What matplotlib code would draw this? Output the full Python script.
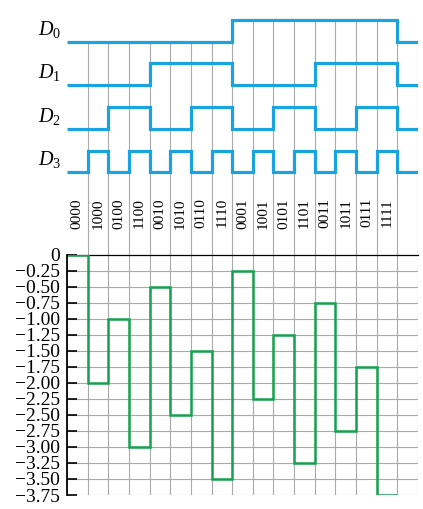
"""Binary-weighted DAC: input code sequence and staircase output."""

import matplotlib
matplotlib.use("Agg")
import matplotlib.pyplot as plt
import numpy as np

plt.rcParams["font.family"] = ["Liberation Serif", "DejaVu Serif"]
plt.rcParams["mathtext.fontset"] = "custom"
plt.rcParams["mathtext.rm"] = "Liberation Serif"
plt.rcParams["mathtext.it"] = "Liberation Serif:italic"

# input codes, written D3 D2 D1 D0
codes = ["0000", "1000", "0100", "1100", "0010", "1010", "0110", "1110",
         "0001", "1001", "0101", "1101", "0011", "1011", "0111", "1111"]
# output voltage for each code
vout = [0, -2.00, -1.00, -3.00, -0.50, -2.50, -1.50, -3.50,
        -0.25, -2.25, -1.25, -3.25, -0.75, -2.75, -1.75, -3.75]
yticks = [0, -0.25, -0.50, -0.75, -1.00, -1.25, -1.50, -1.75, -2.00,
          -2.25, -2.50, -2.75, -3.00, -3.25, -3.50, -3.75]
ytick_labels = ["0"] + ["\u2212%.2f" % abs(v) for v in yticks[1:]]
signal_names = ["D_0", "D_1", "D_2", "D_3"]

BLUE = "#1ba3df"
GREEN = "#17a050"
GRID = "#a9a9a9"

# bit levels per column, one idle column at the end
bits = {k: [int(c[3 - k]) for c in codes] + [0] for k in range(4)}
ncol = len(codes) + 1

fig = plt.figure(figsize=(4.23, 5.09), dpi=100)
left, width = 67 / 423, 351 / 423
split = 1 - 254.7 / 509

# ---- top: digital inputs
top = fig.add_axes([left, split, width, 1 - split])
top.set_xlim(0, ncol)
top.set_ylim(-4.874, 0.954)
top.axis("off")
amp = 0.5
edges = np.arange(ncol + 1)
for k in range(4):
    base = -k * 0.997
    levels = [base + amp * b for b in bits[k]]
    top.stairs(levels, edges, baseline=None, color=BLUE, lw=2.3, zorder=3)
    top.text(-0.29, base + 0.16, "$%s$" % signal_names[k], ha="right",
             va="baseline", fontsize=14.5)
d0 = [amp * b for b in bits[0]]
for x in range(1, ncol + 1):
    upper = max(d0[x - 1], d0[x] if x < ncol else 0)
    top.vlines(x, -4.874, upper, color=GRID, lw=0.8, zorder=1)
for i, code in enumerate(codes):
    top.text(i + 0.5, -3.58, code, rotation=90, ha="center", va="top",
             fontsize=11)

# ---- bottom: analog output
ax = fig.add_axes([left, 1 - 495 / 509, width, (495 - 254.7) / 509])
ax.set_xlim(0, ncol)
ax.set_ylim(-3.75, 0)
ax.stairs(vout, np.arange(len(vout) + 1), baseline=None, color=GREEN,
          lw=1.8, zorder=4)
for x in range(1, ncol + 1):
    ax.axvline(x, color=GRID, lw=0.8, zorder=1)
for y in yticks[1:]:
    ax.axhline(y, color=GRID, lw=0.8, zorder=1)
ax.set_yticks(yticks)
ax.set_yticklabels(ytick_labels)
ax.set_xticks([])
ax.tick_params(axis="y", direction="in", length=7, width=1.2, pad=5,
               labelsize=14, color="black")
for name in ("bottom", "right"):
    ax.spines[name].set_visible(False)
ax.spines["left"].set_linewidth(1.3)
ax.spines["top"].set_linewidth(0.9)
ax.spines["left"].set_zorder(5)

fig.savefig("out.png", dpi=100)
